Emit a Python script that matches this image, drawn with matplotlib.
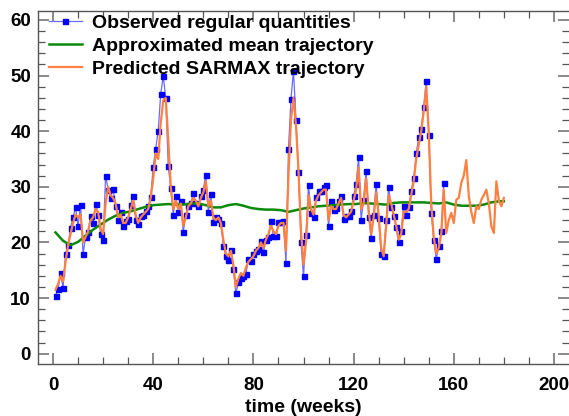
import matplotlib
matplotlib.use("Agg")
import matplotlib.pyplot as plt
from matplotlib.ticker import MultipleLocator

# ---------------- data ----------------
observed = [10.4, 11.6, 14.5, 11.9, 17.9, 19.6, 22.6, 24.5, 26.3, 22.9,
            26.8, 17.9, 21.0, 21.9, 24.7, 23.5, 26.9, 25.0, 21.6, 20.5,
            32.0, 29.5, 28.0, 29.6, 26.5, 24.1, 25.4, 22.9, 23.8, 24.2,
            26.8, 28.4, 24.1, 23.4, 24.7, 25.0, 25.6, 26.5, 28.1, 33.6,
            36.8, 40.1, 46.7, 49.9, 46.0, 33.8, 29.8, 25.0, 28.3, 25.5,
            27.5, 21.9, 25.0, 26.5, 27.0, 28.9, 27.0, 26.6, 28.3, 29.5,
            32.2, 25.4, 28.7, 23.7, 24.5, 24.2, 23.5, 19.4, 17.6, 16.9,
            18.7, 15.2, 10.9, 12.8, 13.6, 13.9, 14.3, 17.0, 16.6, 18.0,
            18.5, 18.8, 20.2, 18.2, 20.5, 21.0, 23.9, 21.1, 21.1, 23.6,
            23.6, 23.8, 16.3, 36.8, 45.8, 50.9, 42.0, 32.6, 20.0, 13.9,
            21.4, 30.4, 25.3, 24.5, 28.1, 29.2, 29.2, 30.0, 30.3, 22.9,
            27.4, 25.9, 26.2, 27.5, 28.4, 24.2, 24.7, 24.7, 25.6, 28.3,
            30.5, 35.3, 24.1, 27.7, 32.9, 24.6, 20.8, 25.0, 30.5, 24.4,
            17.9, 17.5, 24.0, 29.9, 26.3, 24.8, 22.7, 20.0, 22.0, 26.6,
            25.0, 26.4, 29.3, 31.5, 36.0, 38.9, 40.4, 44.4, 49.1, 39.3,
            25.3, 20.5, 17.1, 19.3, 22.1, 30.7]

predicted = [11.5, 12.5, 14.0, 13.0, 16.5, 19.5, 21.5, 23.5, 25.0, 24.5,
             25.0, 20.0, 21.0, 22.0, 24.0, 24.5, 26.0, 25.5, 22.5, 21.5,
             27.0, 30.0, 28.5, 28.0, 27.0, 24.5, 25.0, 23.5, 23.5, 24.5,
             26.0, 27.5, 25.0, 23.5, 24.5, 25.0, 25.5, 26.0, 28.0, 31.5,
             36.0, 35.0, 41.5, 45.5, 46.0, 38.5, 30.0, 26.0, 27.5, 26.0,
             27.0, 23.0, 24.5, 26.5, 27.0, 28.0, 27.5, 26.5, 28.0, 29.0,
             31.0, 26.5, 27.5, 24.5, 24.0, 24.5, 23.5, 20.5, 18.0, 17.5,
             18.5, 16.0, 12.0, 13.5, 14.5, 14.0, 15.5, 16.5, 17.0, 17.5,
             18.5, 19.0, 20.0, 19.0, 20.5, 21.5, 23.0, 22.0, 21.5, 23.0,
             23.5, 23.5, 18.5, 32.0, 42.0, 46.0, 41.0, 33.0, 22.0, 16.0,
             20.0, 28.5, 26.0, 25.0, 27.5, 28.5, 29.0, 29.5, 29.5, 24.0,
             26.5, 26.0, 26.0, 27.0, 28.0, 25.0, 24.5, 25.0, 25.5, 27.5,
             29.5, 33.5, 26.0, 27.0, 31.5, 26.0, 21.5, 24.5, 29.0, 25.0,
             19.0, 17.5, 23.0, 28.5, 27.0, 25.0, 23.0, 20.5, 21.5, 25.5,
             25.5, 26.0, 28.5, 31.0, 35.0, 37.5, 40.0, 43.5, 48.0, 40.0,
             27.0, 21.0, 18.0, 19.0, 21.5, 29.5, 21.7, 24.0, 25.3, 23.5,
             27.7, 28.0, 30.7, 32.0, 34.8, 28.3, 25.5, 23.5, 26.5, 26.0,
             27.7, 28.5, 29.5, 27.0, 22.9, 21.7, 31.0, 27.5, 26.5, 28.0]

mean_weeks = list(range(1, 181, 3)) + [180]
mean_values = [21.8, 20.3, 19.5, 20.1, 21.2, 22.3, 23.2, 24.1, 24.8, 25.3,
               25.6, 26.0, 26.4, 26.7, 26.8, 26.9, 26.8, 26.8, 27.0, 27.0,
               26.7, 26.3, 26.3, 26.7, 26.9, 26.6, 26.2, 26.0, 25.9, 25.9,
               25.8, 25.5, 25.8, 26.1, 26.3, 26.5, 26.6, 26.7, 26.8, 26.9,
               26.9, 27.1, 27.0, 26.9, 26.8, 27.1, 27.2, 27.2, 27.2, 27.2,
               27.1, 27.0, 27.2, 26.8, 26.6, 26.6, 26.6, 26.8, 27.2, 27.4,
               27.4]

obs_weeks = list(range(1, len(observed) + 1))
pred_weeks = list(range(1, len(predicted) + 1))

labels = ["Observed regular quantities",
          "Approximated mean trajectory",
          "Predicted SARMAX trajectory"]
x_label = "time (weeks)"

# ---------------- figure ----------------
plt.rcParams['font.family'] = ['Liberation Sans', 'DejaVu Sans']
plt.rcParams['font.weight'] = 'bold'

fig = plt.figure(figsize=(5.69, 4.16), dpi=100)
ax = fig.add_axes([38 / 569, 52 / 416, 531 / 569, 353 / 416])

ax.plot(obs_weeks, observed, color='#6a6aff', lw=0.9, marker='s', ms=3.6,
        mfc='#0000ff', mec='#0000ff', label=labels[0], zorder=2)
ax.plot(mean_weeks, mean_values, color='#0a8a0a', lw=1.8, label=labels[1], zorder=3)
ax.plot(pred_weeks, predicted, color='#ff8040', lw=1.6, label=labels[2], zorder=4)

ax.set_xlim(-6, 206)
ax.set_ylim(-1.85, 61.6)

ax.xaxis.set_major_locator(MultipleLocator(40))
ax.xaxis.set_minor_locator(MultipleLocator(10))
ax.yaxis.set_major_locator(MultipleLocator(10))
ax.yaxis.set_minor_locator(MultipleLocator(2))

ax.tick_params(which='both', direction='in', top=True, right=True)
ax.tick_params(which='major', length=8, width=1.4, color='#8a8a8a')
ax.tick_params(which='minor', length=5, width=0.9, color='#555555')
ax.tick_params(axis='both', which='major', labelsize=13.5, pad=5)
ax.tick_params(axis='x', which='major', pad=9)
for lab in ax.get_xticklabels() + ax.get_yticklabels():
    lab.set_fontweight('bold')

for s in ax.spines.values():
    s.set_color('#555555')
    s.set_linewidth(1.0)
ax.spines['right'].set_visible(False)

ax.set_xlabel(x_label, fontsize=14, fontweight='bold', labelpad=4)

leg = ax.legend(loc='upper left', bbox_to_anchor=(0.02, 0.99), frameon=False,
                prop={'weight': 'bold', 'size': 14}, handlelength=1.7,
                handletextpad=0.55, labelspacing=0.28, borderpad=0.0,
                borderaxespad=0.0)

fig.savefig("out.png", dpi=100)
